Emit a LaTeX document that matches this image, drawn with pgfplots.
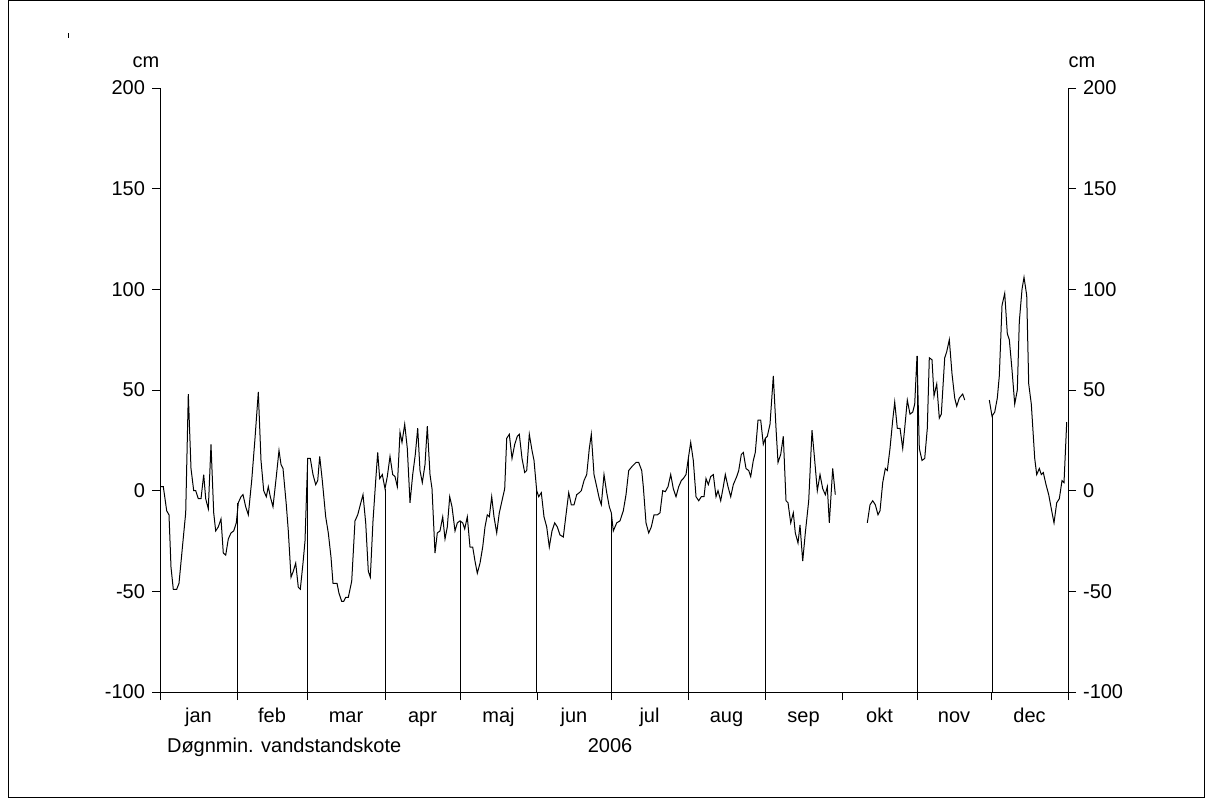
\documentclass[border=0pt]{standalone}
\usepackage{pgfplots}
\pgfplotsset{compat=1.18}
\usepackage{fontspec}
\setmainfont{Liberation Sans}
\begin{document}
\begin{tikzpicture}[x=0.5pt,y=0.5pt]
\useasboundingbox (0,0) rectangle (1208,798);
\draw[line width=0.5pt] (8,1) rectangle (1204,797);
\draw (68,760) -- (68,765);
\node[anchor=base] at (146,730) {cm};
\node[anchor=base] at (1082,730) {cm};
\node[anchor=base west] at (160,46) {Døgnmin. vandstandskote};
\node[anchor=base] at (610,46) {2006};
\begin{axis}[at={(80pt,53pt)},anchor=south west,scale only axis,width=454pt,height=302pt,
  xmin=160,xmax=1068,ymin=-100,ymax=200,
  axis x line=bottom, axis y line=left, axis line style={-,line width=0.5pt},
  tick align=outside, major tick length=4pt,
  ytick={-100,-50,0,50,100,150,200},
  /pgf/number format/assume math mode=true,
  xtick={160,237,307,385,460,537,611,688,765,842,917,991,1068},
  xticklabels={},
  extra x ticks={198.5,272,346,422.5,498.5,574,649.5,726.5,803.5,879.5,954,1029.5},
  extra x tick labels={jan,feb,mar,apr,maj,jun,jul,aug,sep,okt,nov,dec},
  extra x tick style={major tick length=0pt,tick style={draw=none},
    xticklabel style={anchor=north,text height=1.6ex,text depth=0.3ex,yshift=-3.5pt}},
  every tick/.style={line width=0.5pt},
  clip=false]
\addplot[black,line width=0.5pt] coordinates {
(160,2)(163.3,2)(166.7,-10)(169,-12)(171,-38)(173.3,-49)(176.7,-49)(179,-46)(183,-25)(185.7,-11)(188.3,48)(191,11)(193.7,0)(195.7,0)(198.3,-4)(201,-4)(203.7,8)(205.7,-4)(208.3,-9)(211,23)(213.7,-11)(215.7,-20)(218.3,-18)(221,-14)(223.3,-31)(225.7,-32)(228.3,-24)(231,-21)(233.7,-20)(236.3,-16)(238.3,-6)(241,-3)(243,-2)(245.7,-8)(248.3,-12)(251.7,5)(255,26)(258.3,49)(261,15)(263.7,0)(266.3,-3)(268.3,2)(270.3,-3)(273,-8)(276.3,7)(279,20)(281,13)(283,11)(286.3,-7)(288.3,-20)(291,-43)(293.3,-40)(295.7,-36)(298.3,-48)(300.3,-49)(303,-36)(305,-25)(307.7,16)(310.3,16)(313,8)(315.7,3)(317.7,5)(319.7,17)(322.3,5)(325.7,-13)(328.3,-21)(331,-33)(333,-46)(337,-46)(339,-51)(341.7,-55)(343.7,-55)(345.7,-53)(348.3,-53)(351.7,-45)(355,-15)(357.7,-12)(360.3,-7)(363,-2)(365.7,-16)(368.3,-40)(370.3,-43)(373,-15)(375.7,5)(377.7,19)(379.7,6)(382.3,8)(385,1)(387.3,7)(390,17)(392.7,8)(395,7)(397.3,2)(400,29)(402,24)(404.7,33)(407.3,21)(410,-6)(412.7,8)(415.3,18)(417.7,31)(420,10)(422.3,4)(425,13)(427.3,32)(430,8)(432,1)(435,-31)(437.3,-21)(440,-20)(442.7,-13)(445,-24)(447.3,-18)(449.7,-3)(452,-8)(455,-20)(457.3,-16)(460,-15)(462.7,-16)(464.7,-19)(467.3,-13)(470,-28)(472.7,-28)(475,-35)(477.3,-41)(480,-36)(482.7,-28)(485,-18)(487.3,-12)(489.3,-13)(491.7,-3)(494,-13)(496.7,-21)(499.3,-11)(502,-5)(504.7,1)(506.7,26)(509.3,28)(512,16)(514.7,23)(517.3,27)(519.3,28)(522,16)(524.7,9)(526.7,10)(529.3,28)(532,20)(534,15)(536.7,0)(538.7,-3)(541.3,-1)(544,-13)(546.7,-18)(549.3,-28)(552,-20)(554.7,-16)(557.3,-18)(560,-22)(563.3,-23)(566,-12)(568.7,-1)(571.3,-7)(574,-7)(576.7,-2)(579.3,-1)(581.3,0)(584,5)(586.7,8)(589.3,21)(591.3,28)(594,8)(596.7,2)(599.3,-4)(601.3,-7)(604,8)(606.7,-1)(609.3,-8)(611.3,-11)(613.3,-20)(616.7,-16)(620,-15)(623.3,-10)(626,-2)(628.7,10)(632,12)(636,14)(638.7,14)(641.7,10)(643.3,2)(646,-16)(648.7,-21)(651.3,-18)(654,-12)(657.3,-12)(660,-11)(662.7,0)(665.3,-0.5)(668,2)(670.7,8)(673.3,1)(676,-3)(678.7,2)(681.3,5)(683.3,6)(686,8)(688.3,16)(690.7,24)(693.3,15)(696,-3)(698.7,-5)(701.3,-3)(704,-3)(706,6)(708.3,3)(710.7,7)(713.3,8)(716,-3)(718,0)(720.7,-5)(723.3,2)(725.3,8)(728,2)(730.7,-3)(733.3,3)(736.7,7)(738.7,10)(741.3,18)(743.3,19)(746,11)(748.7,10)(750.7,7)(753.3,15)(755.3,19)(758,35)(760.7,35)(763.3,23)(765.3,26)(767.3,27)(770,33)(773.3,57)(776,31)(778,14)(780.7,18)(783.3,27)(786,-5)(788,-6)(790.7,-16)(793.3,-11)(795.3,-21)(798,-26)(800,-17)(802.7,-35)(805.3,-21)(808.7,-5)(812,30)(814.7,15)(817.3,0)(820,8)(822.7,1)(825.3,-2)(827.3,2)(829.3,-16)(832.7,11)(835.3,-2)};
\addplot[black,line width=0.5pt] coordinates {
(867.3,-16)(870,-7)(872.7,-5)(875.3,-7)(878,-12)(880,-10)(882.7,4)(885.3,11)(887.3,10)(890,21)(892.7,35)(894.7,44)(897.3,31)(900,31)(902.7,21)(904.7,31)(907.3,45)(910,38)(912.7,39)(914.7,43)(917,67)(919.3,21)(922,15)(924.7,16)(927.3,31)(929.3,66)(932,65)(934,47)(936.7,53)(939.3,36)(941.3,38)(944.7,66)(946.7,69)(949.3,75)(952,58)(954.7,46)(956.7,42)(959.3,46)(962.7,48)(964.7,45)};
\addplot[black,line width=0.5pt] coordinates {
(989.3,45)(992,37)(994.7,39)(997.3,46)(999.3,57)(1002,92)(1004.7,98)(1007.3,78)(1009.3,75)(1012,60)(1014.7,43)(1017.3,50)(1019.3,84)(1022,100)(1024,106)(1026.7,97)(1028.7,53)(1031.3,43)(1034.7,16)(1036.7,8)(1039.3,11)(1041.3,8)(1043.3,9)(1046,3)(1048.7,-2)(1051.3,-9)(1054,-16)(1056.7,-6)(1059.3,-4)(1062,5)(1064,4)(1066.7,34)};
\addplot[black,line width=0.5pt] coordinates {(237,-100)(237,-6)};
\addplot[black,line width=0.5pt] coordinates {(307.7,-100)(307.7,16)};
\addplot[black,line width=0.5pt] coordinates {(385,-100)(385,1)};
\addplot[black,line width=0.5pt] coordinates {(460,-100)(460,-15)};
\addplot[black,line width=0.5pt] coordinates {(536.7,-100)(536.7,0)};
\addplot[black,line width=0.5pt] coordinates {(611.3,-100)(611.3,-11)};
\addplot[black,line width=0.5pt] coordinates {(688.3,-100)(688.3,16)};
\addplot[black,line width=0.5pt] coordinates {(765.3,-100)(765.3,26)};
\addplot[black,line width=0.5pt] coordinates {(917,-100)(917,67)};
\addplot[black,line width=0.5pt] coordinates {(992,-100)(992,37)};
\end{axis}
\begin{axis}[at={(80pt,53pt)},anchor=south west,scale only axis,width=454pt,height=302pt,
  xmin=160,xmax=1068,ymin=-100,ymax=200,
  axis x line=none, axis y line=right, axis line style={-,line width=0.5pt},
  tick align=outside, major tick length=4pt,
  ytick={-100,-50,0,50,100,150,200},
  every tick/.style={line width=0.5pt},
  /pgf/number format/assume math mode=true]
\end{axis}
\end{tikzpicture}
\end{document}
